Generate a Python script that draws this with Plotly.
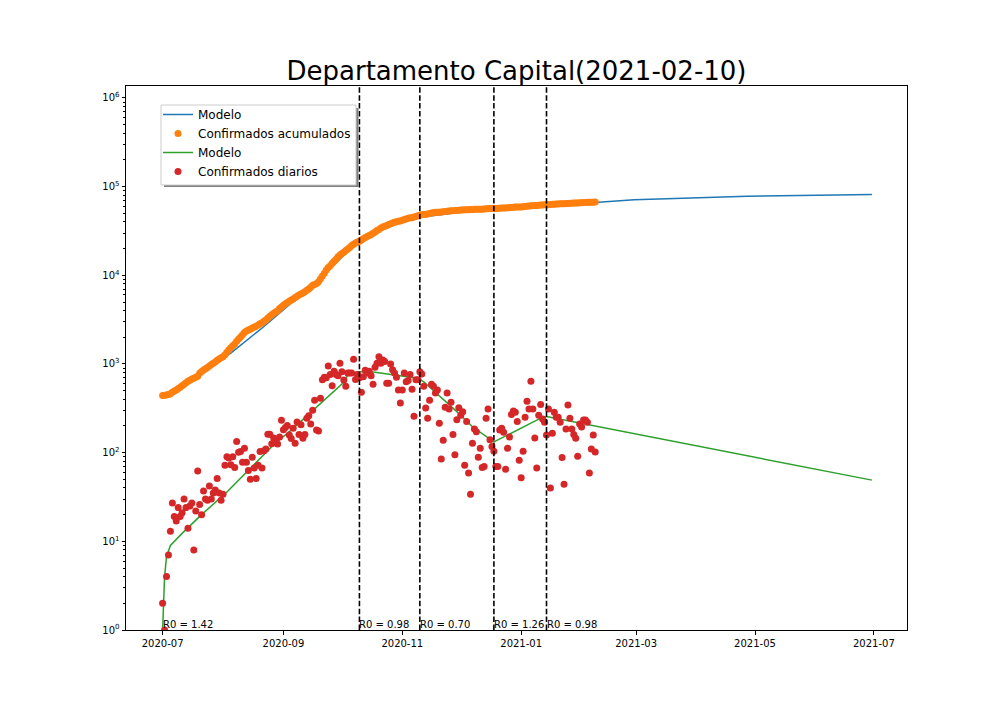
import pandas as pd
import plotly.graph_objects as go

titulo = "Departamento Capital(2021-02-10)"
inicio = "2020-07-01"

acumulados = [
 440,445,447,452,462,480,495,510,530,548,
 570,590,615,638,655,675,690,710,725,785,
 825,855,885,915,950,985,1020,1055,1100,1135,
 1175,1205,1270,1360,1445,1520,1610,1680,1810,1910,
 2010,2130,2270,2350,2410,2460,2550,2620,2670,2745,
 2850,2920,3025,3135,3295,3455,3580,3725,3860,3985,
 4215,4395,4590,4790,4950,5095,5280,5410,5630,5790,
 5995,6140,6300,6545,6805,7015,7315,7705,7885,8060,
 8470,9130,9840,10540,11490,12250,12820,13650,14410,15145,
 16165,16985,17645,18205,18995,19785,20575,21705,22375,23135,
 23800,24280,25000,25850,26640,27470,28205,28795,29715,30735,
 31945,32965,34075,35145,35750,36360,37360,38220,39010,39720,
 40230,40590,41100,41890,42520,43170,43930,44450,44710,45370,
 46030,46850,47620,48180,48500,48745,49135,49725,50285,50755,
 51265,51480,51565,51705,52030,52500,52810,53180,53340,53435,
 53670,53990,54255,54545,54617,54842,54901,54935,55063,55248,
 55420,55509,55621,55689,55759,56004,56314,56454,56571,56675,
 56745,56815,56995,57183,57353,57418,57530,57680,57950,58245,
 58530,58755,58837,58889,58993,59243,59623,59933,60573,60883,
 61029,61096,61361,61711,61951,62171,62329,62639,62679,62845,
 63130,63380,63630,63850,63938,63982,64167,64512,64757,64942,
 65102,65247,65338,65548,65743,65976,66209,66429,66488,66598,
 66756,66858,66960]

diarios = [
 2,1,4,7,13,27,19,17,24,19,
 21,30,24,14,25,27,8,22,62,26,
 20,37,30,29,42,30,35,38,51,35,
 29,34,72,90,87,73,90,68,134,101,
 103,78,112,78,63,50,89,67,51,72,
 103,67,105,110,161,161,126,146,136,125,
 150,232,181,192,202,158,144,188,128,222,
 160,206,145,160,245,260,210,300,390,180,
 175,410,663,710,700,950,760,570,830,760,
 735,1020,820,660,560,790,790,790,1130,670,
 760,700,480,720,850,790,830,735,590,920,
 1020,1210,1020,1110,1070,608,608,1000,860,790,
 710,510,362,510,790,630,650,760,520,258,
 663,663,820,770,560,318,245,390,590,560,
 470,510,215,85,138,325,470,310,370,160,
 95,235,320,265,290,72,225,59,34,128,
 185,172,89,112,68,70,245,310,140,117,
 104,70,70,180,188,170,65,112,150,270,
 295,285,225,82,52,104,250,380,310,640,
 310,146,67,265,350,240,220,158,310,40,
 166,285,250,250,220,88,44,185,345,245,
 185,160,145,91,210,195,233,233,220,59,
 110,158,102]

dias_modelo_acum = [0,10,20,30,35,52,62,76,82,87,95,101,111,123,133,153,172,184,198,224,242,300,364]
modelo_acum = [455,560,790,1120,1327,2650,4100,7500,10150,12400,18600,23700,31300,41000,45500,51500,54500,56500,61000,67000,71300,77800,81500]

dias_modelo_diario = [0,1,2,4,10,20,33,45,57,67,79,93,95,100,108,120,131,134,142,151,159,170,194,197,364]
modelo_diario = [1,4,6.7,9,12.3,20,36,66,123,188,330,620,750,820,810,750,690,630,440,290,196,132,245,255,49]

fechas_r0 = ["2020-07-01","2020-10-10","2020-11-10","2020-12-18","2021-01-14"]
textos_r0 = ["R0 = 1.42","R0 = 0.98","R0 = 0.70","R0 = 1.26","R0 = 0.98"]

ticks_x = ["2020-07-01","2020-09-01","2020-11-01","2021-01-01","2021-03-01","2021-05-01","2021-07-01"]
etiquetas_x = ["2020-07","2020-09","2020-11","2021-01","2021-03","2021-05","2021-07"]
ticks_y = [1,10,100,1000,10000,100000,1000000]
etiquetas_y = ["10<sup>0</sup>","10<sup>1</sup>","10<sup>2</sup>","10<sup>3</sup>","10<sup>4</sup>","10<sup>5</sup>","10<sup>6</sup>"]

t0 = pd.Timestamp(inicio)
def fechas(dias):
    return [t0 + pd.Timedelta(days=d) for d in dias]

fig = go.Figure()
fig.add_trace(go.Scatter(x=fechas(dias_modelo_acum), y=modelo_acum, mode="lines", name="Modelo",
                         line=dict(color="#1f77b4", width=1.5)))
fig.add_trace(go.Scatter(x=fechas(range(len(acumulados))), y=acumulados, mode="markers",
                         name="Confirmados acumulados", marker=dict(color="#ff7f0e", size=7)))
fig.add_trace(go.Scatter(x=fechas(dias_modelo_diario), y=modelo_diario, mode="lines", name="Modelo",
                         line=dict(color="#2ca02c", width=1.5)))
fig.add_trace(go.Scatter(x=fechas(range(len(diarios))), y=diarios, mode="markers",
                         name="Confirmados diarios", marker=dict(color="#d62728", size=7)))

W, H = 1008, 720
L, R, T, B = 126, 101, 86, 90
pw, ph = W - L - R, H - T - B

def px(v):
    return (v - L) / pw
def py(v):
    return 1 - (v - T) / ph

shapes = [dict(type="line", xref="x", yref="paper", x0=f, x1=f, y0=0, y1=1,
               line=dict(color="black", width=1.6, dash="5.5px,2.4px"), layer="above")
          for f in fechas_r0[1:]]
shapes.append(dict(type="rect", xref="paper", yref="paper",
                   x0=px(164), x1=px(358.5), y0=py(187), y1=py(108),
                   fillcolor="#808080", line=dict(width=0), layer="above"))
shapes.append(dict(type="rect", xref="paper", yref="paper",
                   x0=px(161), x1=px(356), y0=py(185), y1=py(105),
                   fillcolor="white", line=dict(color="#cccccc", width=1), layer="above"))

annots = [dict(x=f, y=0, xref="x", yref="y", text=s, showarrow=False, xanchor="left", yanchor="bottom",
               font=dict(size=10, color="black"), borderpad=0, borderwidth=0)
          for f, s in zip(fechas_r0, textos_r0)]

menores = [m * 10**k for k in range(0, 7) for m in range(2, 10)]

fig.update_layout(
    width=W, height=H, margin=dict(l=L, r=R, t=T, b=B, pad=0), autosize=False,
    paper_bgcolor="white", plot_bgcolor="white",
    font=dict(family="DejaVu Sans", color="black", size=10),
    title=dict(text=titulo, font=dict(size=26, family="DejaVu Sans", color="black"),
               x=0.5, xref="paper", xanchor="center", y=1-80/H, yref="container", yanchor="bottom", pad=dict(b=0)),
    xaxis=dict(type="date", range=["2020-06-12 05:00", "2021-07-18"], tickvals=ticks_x, ticktext=etiquetas_x,
               showgrid=False, zeroline=False, showline=True, linecolor="black", linewidth=1, mirror=True,
               ticks="outside", ticklen=3.5, tickwidth=0.8, tickcolor="black", tickfont=dict(size=10), tickangle=0),
    yaxis=dict(type="log", range=[0, 6.135], tickvals=ticks_y, ticktext=etiquetas_y,
               showgrid=False, zeroline=False, showline=True, linecolor="black", linewidth=1, mirror=True,
               ticks="outside", ticklen=3.5, tickwidth=0.8, tickcolor="black", tickfont=dict(size=10),
               minor=dict(tickvals=menores, ticks="outside", ticklen=2, tickwidth=0.6, tickcolor="black", showgrid=False)),
    legend=dict(x=px(158), y=py(100), xanchor="left", yanchor="top",
                bgcolor="rgba(0,0,0,0)", borderwidth=0,
                font=dict(size=12, family="DejaVu Sans", color="black"), itemwidth=30, tracegroupgap=0,
                traceorder="normal"),
    shapes=shapes, annotations=annots,
)
fig.write_html("out.html", config={"displayModeBar": False}, post_script="document.body.style.margin='0';")
